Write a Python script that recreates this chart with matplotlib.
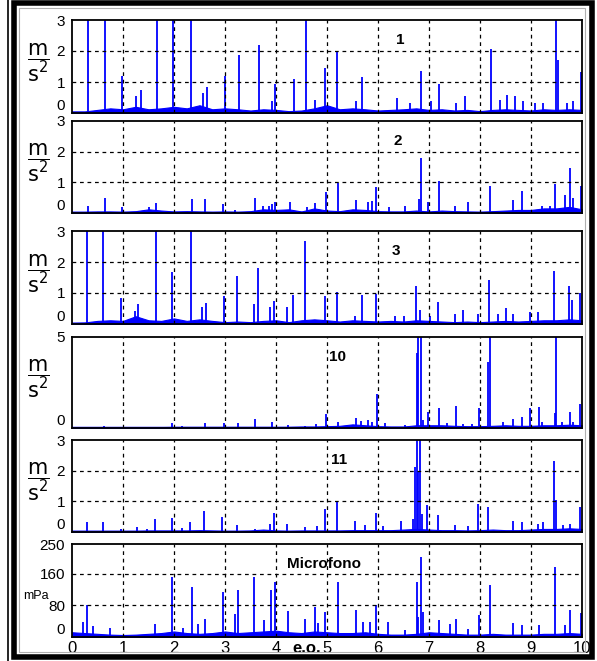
import numpy as np
import matplotlib
matplotlib.use('Agg')
import matplotlib.pyplot as plt
from matplotlib.lines import Line2D
from matplotlib.patches import Rectangle

plt.rcParams['font.family'] = ['Liberation Sans', 'DejaVu Sans']
plt.rcParams['mathtext.fontset'] = 'dejavusans'

BLUE = '#0000ff'

# spikes: (position in e.o., height)
p1_x = [0.32, 0.65, 0.99, 1.25, 1.35, 1.66, 1.99, 2.33, 2.56, 2.64, 3.0, 3.27, 3.67, 3.92, 3.98,
        4.35, 4.59, 4.77, 4.97, 5.2, 5.57, 5.69, 6.37, 6.63, 6.84, 7.04, 7.2, 7.52, 7.71, 8.21,
        8.39, 8.52, 8.69, 8.85, 9.08, 9.24, 9.49, 9.52, 9.7, 9.83, 9.98]
p1_y = [3.5, 3.5, 1.2, 0.55, 0.75, 3.5, 3.5, 3.5, 0.65, 0.85, 1.18, 1.88, 2.2, 0.38, 0.95,
        1.1, 3.05, 0.43, 1.45, 2.0, 0.38, 1.15, 0.48, 0.32, 1.37, 0.38, 0.93, 0.32, 0.54, 2.07,
        0.43, 0.57, 0.56, 0.38, 0.32, 0.32, 3.5, 1.72, 0.32, 0.38, 1.32]

p2_x = [0.32, 0.65, 0.99, 1.3, 1.5, 1.65, 2.35, 2.61, 2.97, 3.2, 3.59, 3.75, 3.87, 3.92, 3.98,
        4.27, 4.6, 4.76, 4.98, 5.21, 5.56, 5.8, 5.89, 5.97, 6.22, 6.53, 6.81, 6.84, 6.99, 7.2,
        7.51, 7.77, 8.2, 8.65, 8.83, 9.21, 9.37, 9.48, 9.67, 9.76, 9.83, 9.98]
p2_y = [0.22, 0.49, 0.18, 0.08, 0.18, 0.31, 0.46, 0.46, 0.29, 0.11, 0.49, 0.24, 0.22, 0.29, 0.37,
        0.37, 0.18, 0.33, 0.7, 0.98, 0.42, 0.35, 0.39, 0.84, 0.18, 0.22, 0.46, 1.78, 0.35, 1.05,
        0.22, 0.37, 0.89, 0.42, 0.73, 0.22, 0.22, 0.95, 0.59, 1.46, 0.49, 0.89]

p3_x = [0.3, 0.61, 0.96, 1.24, 1.3, 1.65, 1.97, 2.33, 2.54, 2.63, 2.98, 3.24, 3.57, 3.65, 3.88,
        3.96, 4.22, 4.34, 4.57, 4.96, 5.19, 5.55, 5.68, 5.96, 6.33, 6.5, 6.75, 6.82, 7.02, 7.18,
        7.51, 7.67, 7.97, 8.18, 8.36, 8.51, 8.65, 8.98, 9.14, 9.46, 9.75, 9.8, 9.96]
p3_y = [3.5, 3.5, 0.83, 0.43, 0.65, 3.5, 1.69, 3.5, 0.54, 0.68, 0.91, 1.54, 0.65, 1.8, 0.54,
        0.75, 0.54, 0.94, 2.69, 0.89, 1.02, 0.27, 0.94, 0.97, 0.25, 0.25, 1.24, 0.46, 0.25, 0.72,
        0.32, 0.45, 0.32, 1.42, 0.32, 0.51, 0.32, 0.38, 0.4, 1.72, 1.24, 0.78, 0.99]

p10_x = [0.63, 1.97, 2.15, 2.61, 2.98, 3.26, 3.59, 3.92, 4.24, 4.57, 4.78, 4.98, 5.22, 5.56, 5.66,
         5.8, 5.88, 5.99, 6.14, 6.52, 6.76, 6.79, 6.84, 6.89, 6.99, 7.2, 7.35, 7.52, 7.67, 7.84,
         7.99, 8.16, 8.2, 8.46, 8.65, 8.83, 8.98, 9.16, 9.21, 9.47, 9.49, 9.6, 9.76, 9.83, 9.97]
p10_y = [0.1, 0.3, 0.13, 0.26, 0.26, 0.26, 0.48, 0.31, 0.16, 0.13, 0.2, 0.75, 0.31, 0.53, 0.38,
         0.44, 0.35, 1.85, 0.26, 0.16, 4.1, 5.5, 5.5, 0.44, 0.86, 1.08, 0.26, 1.23, 0.2, 0.2,
         1.12, 3.65, 5.5, 0.31, 0.49, 0.62, 1.12, 1.17, 0.31, 0.81, 5.5, 0.31, 0.86, 0.31, 1.3]

p11_x = [0.3, 0.61, 0.96, 1.28, 1.48, 1.63, 1.97, 2.15, 2.31, 2.59, 2.95, 3.24, 3.59, 3.88, 3.96,
         4.22, 4.57, 4.81, 4.96, 5.19, 5.54, 5.75, 5.96, 6.1, 6.46, 6.69, 6.73, 6.76, 6.79, 6.82,
         6.86, 6.97, 7.17, 7.51, 7.77, 7.97, 8.16, 8.65, 8.82, 9.14, 9.23, 9.46, 9.49, 9.63, 9.76, 9.96]
p11_y = [0.33, 0.33, 0.11, 0.15, 0.11, 0.42, 0.46, 0.13, 0.33, 0.7, 0.5, 0.24, 0.11, 0.26, 0.62,
         0.26, 0.15, 0.18, 0.76, 1.0, 0.37, 0.22, 0.62, 0.18, 0.37, 0.43, 2.11, 3.5, 1.97, 3.5,
         0.59, 0.89, 0.54, 0.22, 0.18, 0.91, 0.8, 0.37, 0.33, 0.26, 0.33, 2.32, 1.05, 0.22, 0.26, 0.8]

mic_x = [0.22, 0.3, 0.42, 0.75, 1.63, 1.97, 2.18, 2.35, 2.48, 2.6, 2.97, 3.2, 3.25, 3.57, 3.77,
         3.9, 3.98, 4.24, 4.57, 4.76, 4.83, 4.97, 5.21, 5.57, 5.71, 5.84, 5.97, 6.19, 6.53, 6.76,
         6.79, 6.84, 6.89, 7.2, 7.41, 7.52, 7.77, 7.98, 8.2, 8.65, 8.82, 9.16, 9.48, 9.67, 9.76, 9.98]
mic_y = [38, 82, 28, 23, 34, 152, 23, 126, 34, 45, 114, 59, 118, 152, 44,
         120, 139, 66, 45, 76, 35, 63, 138, 69, 38, 38, 82, 38, 17, 138,
         51, 202, 63, 42, 34, 45, 19, 56, 131, 35, 30, 31, 176, 31, 69, 61]

# background noise level, every 0.25 e.o.
floor_x = np.arange(41) * 0.25
f1 = [0.05, 0.05, 0.10, 0.15, 0.12, 0.20, 0.12, 0.15, 0.20, 0.15, 0.25, 0.12, 0.15, 0.12, 0.08, 0.12,
      0.10, 0.06, 0.08, 0.15, 0.25, 0.12, 0.15, 0.12, 0.08, 0.10, 0.12, 0.15, 0.10, 0.12, 0.08, 0.10,
      0.06, 0.10, 0.12, 0.10, 0.08, 0.12, 0.10, 0.12, 0.10]
f2 = [0.04, 0.04, 0.05, 0.05, 0.04, 0.06, 0.12, 0.08, 0.05, 0.06, 0.05, 0.04, 0.05, 0.04, 0.06, 0.12,
      0.10, 0.12, 0.05, 0.15, 0.08, 0.06, 0.12, 0.10, 0.06, 0.05, 0.05, 0.08, 0.05, 0.08, 0.06, 0.05,
      0.04, 0.06, 0.08, 0.10, 0.10, 0.15, 0.15, 0.20, 0.12]
f3 = [0.04, 0.05, 0.10, 0.12, 0.10, 0.25, 0.12, 0.10, 0.18, 0.10, 0.15, 0.10, 0.06, 0.08, 0.06, 0.10,
      0.12, 0.06, 0.12, 0.15, 0.12, 0.08, 0.12, 0.10, 0.08, 0.10, 0.08, 0.12, 0.10, 0.08, 0.06, 0.08,
      0.06, 0.08, 0.10, 0.08, 0.10, 0.12, 0.12, 0.15, 0.12]
f10 = [0.05, 0.05, 0.05, 0.05, 0.05, 0.05, 0.05, 0.05, 0.06, 0.06, 0.06, 0.06, 0.06, 0.06, 0.06, 0.06,
       0.06, 0.06, 0.08, 0.08, 0.10, 0.12, 0.20, 0.15, 0.10, 0.08, 0.08, 0.15, 0.15, 0.15, 0.12, 0.10,
       0.10, 0.12, 0.15, 0.12, 0.12, 0.15, 0.15, 0.18, 0.15]
f11 = [0.04, 0.04, 0.04, 0.04, 0.04, 0.04, 0.05, 0.05, 0.05, 0.05, 0.06, 0.05, 0.04, 0.04, 0.05, 0.08,
       0.05, 0.04, 0.05, 0.05, 0.05, 0.05, 0.06, 0.06, 0.06, 0.06, 0.08, 0.10, 0.08, 0.06, 0.06, 0.05,
       0.06, 0.08, 0.06, 0.06, 0.08, 0.10, 0.10, 0.12, 0.10]
fmic = [12, 10, 8, 6, 5, 6, 8, 10, 14, 10, 8, 10, 14, 10, 12, 14, 16, 12, 10, 14, 12, 10, 10, 12,
        8, 6, 6, 8, 12, 10, 8, 6, 6, 8, 6, 6, 6, 8, 8, 10, 8]

panels = [
    # name, spikes x, spikes y, floor, ylim top, yticks, ytick labels, hgrid, box px (top, bottom), title x px
    ('1', p1_x, p1_y, f1, 3, [0, 1, 2, 3], ['0', '1', '2', '3'], [1, 2], (20, 113), 400),
    ('2', p2_x, p2_y, f2, 3, [0, 1, 2, 3], ['0', '1', '2', '3'], [1, 2], (121, 213), 398),
    ('3', p3_x, p3_y, f3, 3, [0, 1, 2, 3], ['0', '1', '2', '3'], [1, 2], (231, 324), 396),
    ('10', p10_x, p10_y, f10, 5, [0, 5], ['0', '5'], [], (337, 428), 338),
    ('11', p11_x, p11_y, f11, 3, [0, 1, 2, 3], ['0', '1', '2', '3'], [1, 2], (440, 532), 339),
    ('Microfono', mic_x, mic_y, fmic, 235, [0, 80, 160, 235], ['0', '80', '160', '250'], [80, 160], (544, 637), 324),
]

W, H = 597, 661
fig = plt.figure(figsize=(W / 100, H / 100), dpi=100)

# outer frame of the scanned figure
fig.patches.append(Rectangle((14 / W, 4 / H), 578 / W, 654 / H, transform=fig.transFigure,
                             fill=False, edgecolor='black', lw=4))
fig.patches.append(Rectangle((19 / W, 9 / H), 566 / W, 644 / H, transform=fig.transFigure,
                             fill=False, edgecolor='#b0b0b0', lw=0.8))
fig.lines.append(Line2D([8 / W, 8 / W], [0, 1], transform=fig.transFigure, color='black', lw=1.2))

left, right = 72, 582
for k, (name, px, py, fl, ytop, yt, ytl, hg, (top, bot), tx) in enumerate(panels):
    ax = fig.add_axes([left / W, 1 - bot / H, (right - left) / W, (bot - top) / H])
    ax.set_xlim(0, 10)
    ax.set_ylim(0, ytop)
    ax.fill_between(floor_x, 0, fl, color=BLUE, lw=0.8)
    ax.vlines(px, 0, py, color=BLUE, lw=1.3)
    ax.axhline(0, color=BLUE, lw=2.5)
    for xv in range(1, 10):
        ax.axvline(xv, color='black', lw=0.9, ls=(0, (3, 3)))
    for yv in hg:
        ax.axhline(yv, color='black', lw=0.9, ls=(0, (3, 3)))
    for s in ax.spines.values():
        s.set_linewidth(1.3)
    ax.set_yticks(yt)
    ax.set_yticklabels(ytl)
    ax.tick_params(axis='y', length=0, pad=5, labelsize=11)
    labels = ax.get_yticklabels()
    labels[0].set_va('bottom')
    ax.set_xticks(range(11))
    if k == len(panels) - 1:
        ax.tick_params(axis='x', length=0, pad=3, labelsize=12)
        ax.text(4.6, -0.12, 'e.o.', transform=ax.get_xaxis_transform(), ha='center', va='center',
                fontsize=12, fontweight='bold')
        fig.text(36 / W, 1 - 596 / H, 'mPa', ha='center', va='center', fontsize=9)
    else:
        ax.tick_params(axis='x', length=0, labelbottom=False)
        cy = (top + bot) / 2 - 4
        fig.text(38 / W, 1 - cy / H, r'$\dfrac{\mathrm{m}}{\mathrm{s}^2}$', ha='center', va='center',
                 fontsize=15)
    fig.text(tx / W, 1 - (top + 20) / H, name, ha='center', va='center', fontsize=11,
             fontweight='bold')

fig.savefig('out.png', dpi=100)
